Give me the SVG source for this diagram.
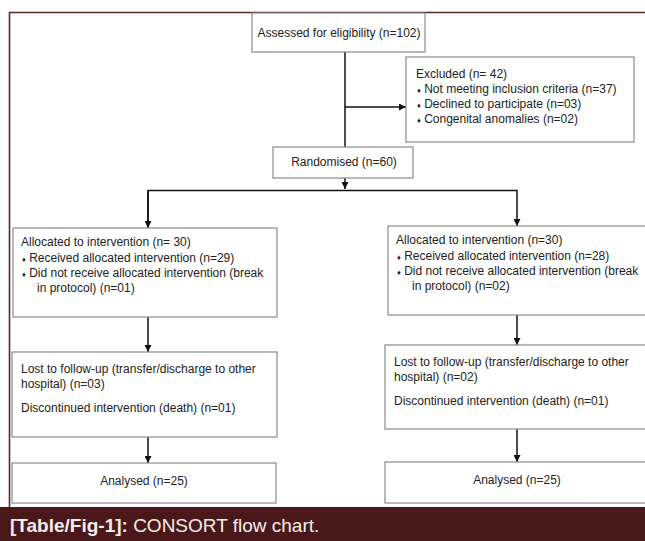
<svg xmlns="http://www.w3.org/2000/svg" width="645" height="541" viewBox="0 0 645 541">
<style>
.box{fill:#fff;stroke:#8a8a8a;stroke-width:1.2}
.t{font-family:"Liberation Sans",Arial,sans-serif;font-size:12px;fill:#222}
.c{text-anchor:middle}
.b{font-size:7.5px}
.ln{fill:none;stroke:#111;stroke-width:1.5}
.cap{font-family:"Liberation Sans",Arial,sans-serif;font-size:19px;fill:#f4eeee}
</style>
<defs>
<marker id="ah" viewBox="0 0 10 10" refX="10" refY="5" markerWidth="7" markerHeight="7" markerUnits="userSpaceOnUse" orient="auto">
<path d="M0,0 L10,5 L0,10 z" fill="#111"/>
</marker>
</defs>
<rect x="0" y="0" width="645" height="541" fill="#fff"/>
<path d="M9.5,508 V12.5 H645" fill="none" stroke="#5a2626" stroke-width="1.6"/>

<g id="connectors">
<path class="ln" d="M345,52 V147"/>
<path class="ln" d="M345,107 H406" marker-end="url(#ah)"/>
<path class="ln" d="M345,178 V189" marker-end="url(#ah)"/>
<path class="ln" d="M148,228 V190.5 H517 V226" marker-end="url(#ah)"/>
<path class="ln" d="M148,191 V228" marker-end="url(#ah)"/>
<path class="ln" d="M148,317 V352" marker-end="url(#ah)"/>
<path class="ln" d="M148,437 V463" marker-end="url(#ah)"/>
<path class="ln" d="M517,315 V345" marker-end="url(#ah)"/>
<path class="ln" d="M517,429 V462" marker-end="url(#ah)"/>
</g>

<g id="assessed">
<rect class="box" x="252" y="13" width="173" height="39"/>
<text class="t c" x="339" y="37" font-size="11.6">Assessed for eligibility (n=102)</text>
</g>

<g id="excluded">
<rect class="box" x="406" y="57" width="228" height="85"/>
<text class="t" x="416" y="78">Excluded (n= 42)</text>
<text class="t" x="417" y="93"><tspan class="b">♦</tspan> Not meeting inclusion criteria (n=37)</text>
<text class="t" x="417" y="108"><tspan class="b">♦</tspan> Declined to participate (n=03)</text>
<text class="t" x="417" y="123"><tspan class="b">♦</tspan> Congenital anomalies (n=02)</text>
</g>

<g id="randomised">
<rect class="box" x="273" y="147" width="140" height="31"/>
<text class="t c" x="344" y="166">Randomised (n=60)</text>
</g>

<g id="alloc-left">
<rect class="box" x="13" y="228" width="264" height="89"/>
<text class="t" x="21" y="246">Allocated to intervention (n= 30)</text>
<text class="t" x="22" y="262"><tspan class="b">♦</tspan> Received allocated intervention (n=29)</text>
<text class="t" x="22" y="277"><tspan class="b">♦</tspan> Did not receive allocated intervention (break</text>
<text class="t" x="37" y="292">in protocol) (n=01)</text>
</g>

<g id="alloc-right">
<rect class="box" x="388" y="226" width="270" height="89"/>
<text class="t" x="396" y="244">Allocated to intervention (n=30)</text>
<text class="t" x="397" y="260"><tspan class="b">♦</tspan> Received allocated intervention (n=28)</text>
<text class="t" x="397" y="275"><tspan class="b">♦</tspan> Did not receive allocated intervention (break</text>
<text class="t" x="412" y="290">in protocol) (n=02)</text>
</g>

<g id="lost-left">
<rect class="box" x="12" y="352" width="265" height="85"/>
<text class="t" x="21" y="373">Lost to follow-up (transfer/discharge to other</text>
<text class="t" x="21" y="388">hospital) (n=03)</text>
<text class="t" x="21" y="412">Discontinued intervention (death) (n=01)</text>
</g>

<g id="lost-right">
<rect class="box" x="385" y="345" width="273" height="84"/>
<text class="t" x="394" y="366">Lost to follow-up (transfer/discharge to other</text>
<text class="t" x="394" y="381">hospital) (n=02)</text>
<text class="t" x="394" y="405">Discontinued intervention (death) (n=01)</text>
</g>

<g id="analysed-left">
<rect class="box" x="12" y="463" width="264" height="40"/>
<text class="t c" x="144" y="485">Analysed (n=25)</text>
</g>

<g id="analysed-right">
<rect class="box" x="385" y="462" width="273" height="41"/>
<text class="t c" x="517" y="484">Analysed (n=25)</text>
</g>

<g id="caption">
<rect x="0" y="507" width="645" height="34" fill="#4a1818"/>
<text class="cap" x="10" y="532"><tspan font-weight="bold">[Table/Fig-1]:</tspan> CONSORT flow chart.</text>
</g>
</svg>
